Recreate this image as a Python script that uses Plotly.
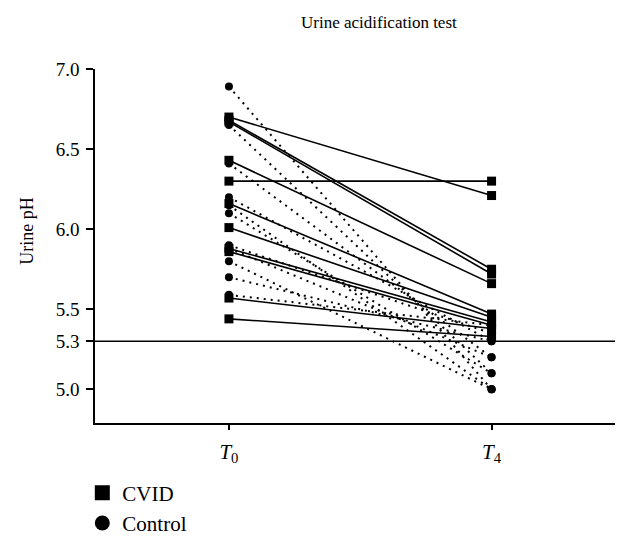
import plotly.graph_objects as go

# ---- data ----
time_labels = ["T0", "T4"]
cvid_t0 = [6.70, 6.30, 6.68, 6.67, 6.43, 6.16, 6.01, 5.88, 5.86, 5.57, 5.44]
cvid_t4 = [6.21, 6.30, 5.75, 5.72, 5.66, 5.47, 5.45, 5.42, 5.40, 5.38, 5.33]
ctrl_t0 = [6.89, 6.65, 6.41, 6.20, 6.15, 6.10, 5.90, 5.88, 5.80, 5.70, 5.59]
ctrl_t4 = [5.00, 5.10, 5.20, 5.30, 5.00, 5.10, 5.35, 5.20, 5.00, 5.30, 5.40]
threshold = 5.3
y_ticks = [5.0, 5.3, 5.5, 6.0, 6.5, 7.0]

FONT = "Liberation Serif, Times New Roman, serif"


def paired(t0, t4):
    xs, ys = [], []
    for a, b in zip(t0, t4):
        xs += [0, 1, None]
        ys += [a, b, None]
    return xs, ys


fig = go.Figure()

cx, cy = paired(ctrl_t0, ctrl_t4)
fig.add_trace(go.Scatter(
    x=cx, y=cy, mode="lines+markers", showlegend=False,
    line=dict(color="black", width=2, dash="2px,5px"),
    marker=dict(symbol="circle", size=8, color="black"),
    hoverinfo="skip"))

vx, vy = paired(cvid_t0, cvid_t4)
fig.add_trace(go.Scatter(
    x=vx, y=vy, mode="lines+markers", showlegend=False,
    line=dict(color="black", width=1.6),
    marker=dict(symbol="square", size=9, color="black"),
    hoverinfo="skip"))

# legend entries
fig.add_trace(go.Scatter(x=[None], y=[None], mode="markers", name="CVID",
                         marker=dict(symbol="square", size=15, color="black")))
fig.add_trace(go.Scatter(x=[None], y=[None], mode="markers", name="Control",
                         marker=dict(symbol="circle", size=15, color="black")))

fig.add_shape(type="line", xref="paper", x0=0, x1=1, yref="y",
              y0=threshold, y1=threshold,
              line=dict(color="black", width=1.5))

fig.add_annotation(text="Urine pH", textangle=-90, showarrow=False,
                   xref="paper", x=-0.1308, xanchor="center",
                   yref="y", y=5.99, yanchor="middle",
                   font=dict(family=FONT, size=18, color="black"))

fig.update_layout(
    width=640, height=543,
    margin=dict(l=95, r=25, t=69, b=120),
    paper_bgcolor="white", plot_bgcolor="white",
    font=dict(family=FONT, color="black", size=18),
    title=dict(text="Urine acidification test", xref="container", x=0.592,
               xanchor="center", yref="container", y=0.96, yanchor="middle",
               font=dict(family=FONT, size=17, color="black")),
    showlegend=True,
    legend=dict(xref="paper", x=-0.0244, xanchor="left",
                yref="container", y=0.1297, yanchor="top",
                font=dict(family=FONT, size=21, color="black"),
                bgcolor="rgba(0,0,0,0)", tracegroupgap=0),
    xaxis=dict(range=[-0.51, 1.47], tickvals=[0, 1],
               ticktext=["<i>T</i><sub>0</sub>", "<i>T</i><sub>4</sub>"],
               automargin=False,
               showgrid=False, zeroline=False, showline=True,
               linecolor="black", linewidth=1.5, ticks="outside",
               ticklen=5, tickcolor="black", tickwidth=1.5,
               ticklabelstandoff=4,
               tickfont=dict(family=FONT, size=21)),
    yaxis=dict(range=[4.79, 7.0], tickvals=y_ticks,
               ticktext=[f"{v:.1f}" for v in y_ticks],
               automargin=False,
               showgrid=False, zeroline=False, showline=True,
               linecolor="black", linewidth=1.5, ticks="outside",
               ticklen=7, tickcolor="black", tickwidth=1.5,
               ticklabelstandoff=3,
               tickfont=dict(family=FONT, size=19)),
)

fig.write_html("out.html", config={"displayModeBar": False},
               post_script="document.body.style.margin='0px';")
